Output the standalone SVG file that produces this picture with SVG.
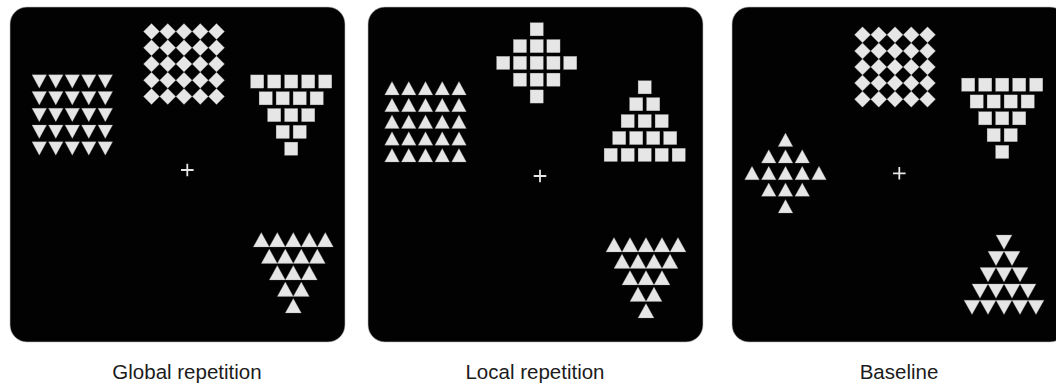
<svg xmlns="http://www.w3.org/2000/svg" xmlns:xlink="http://www.w3.org/1999/xlink" width="1056" height="386" viewBox="0 0 1056 386">
<style>
.panel{fill:#020202;stroke:#bdbdbd;stroke-width:0.6}
.shape{fill:#e6e6e6;stroke:#a0a0a0;stroke-width:0.3}
.cross{stroke:#e6e6e6;stroke-width:1.8;fill:none}
.label{font-family:"Liberation Sans",Arial,sans-serif;font-size:20.5px;fill:#1c1c1c;text-anchor:middle}
</style>
<defs>
<polygon id="td" points="-7.3,-6.7 7.3,-6.7 0,6.7"/>
<polygon id="tu" points="-7.3,6.7 7.3,6.7 0,-6.7"/>
<polygon id="TU" points="-8,7.2 8,7.2 0,-7.2"/>
<polygon id="TD" points="-8,-7.2 8,-7.2 0,7.2"/>
<rect id="sq" x="-6.6" y="-6.6" width="13.2" height="13.2"/>
<polygon id="dia" points="0,-8 8,0 0,8 -8,0"/>
<path id="cross" d="M-6.3,0H6.3M0,-6.3V6.3"/>
<g id="rowTD"><use href="#td" x="0"/><use href="#td" x="16.5"/><use href="#td" x="33"/><use href="#td" x="49.5"/><use href="#td" x="66"/></g>
<g id="rowTU"><use href="#tu" x="0"/><use href="#tu" x="16.75"/><use href="#tu" x="33.5"/><use href="#tu" x="50.25"/><use href="#tu" x="67"/></g>
<g id="rowDia"><use href="#dia" x="0"/><use href="#dia" x="16.25"/><use href="#dia" x="32.5"/><use href="#dia" x="48.75"/><use href="#dia" x="65"/></g>
<g id="sqInv">
<use href="#sq" x="0" y="0"/><use href="#sq" x="17" y="0"/><use href="#sq" x="34" y="0"/><use href="#sq" x="51" y="0"/><use href="#sq" x="68" y="0"/>
<use href="#sq" x="8.5" y="16.8"/><use href="#sq" x="25.5" y="16.8"/><use href="#sq" x="42.5" y="16.8"/><use href="#sq" x="59.5" y="16.8"/>
<use href="#sq" x="17" y="33.6"/><use href="#sq" x="34" y="33.6"/><use href="#sq" x="51" y="33.6"/>
<use href="#sq" x="25.5" y="50.4"/><use href="#sq" x="42.5" y="50.4"/>
<use href="#sq" x="34" y="67.2"/>
</g>
<g id="tuInv">
<use href="#TU" x="0" y="0"/><use href="#TU" x="16" y="0"/><use href="#TU" x="32" y="0"/><use href="#TU" x="48" y="0"/><use href="#TU" x="64" y="0"/>
<use href="#TU" x="8" y="16.5"/><use href="#TU" x="24" y="16.5"/><use href="#TU" x="40" y="16.5"/><use href="#TU" x="56" y="16.5"/>
<use href="#TU" x="16" y="33"/><use href="#TU" x="32" y="33"/><use href="#TU" x="48" y="33"/>
<use href="#TU" x="24" y="49.5"/><use href="#TU" x="40" y="49.5"/>
<use href="#TU" x="32" y="66"/>
</g>
</defs>
<rect width="1056" height="386" fill="#ffffff"/>

<g id="panel-global">
<rect class="panel" x="10" y="7" width="335" height="335" rx="17"/>
<g id="g-downtri-grid" class="shape" transform="translate(39.3,81.5)">
<use href="#rowTD" y="0"/><use href="#rowTD" y="16.75"/><use href="#rowTD" y="33.5"/><use href="#rowTD" y="50.25"/><use href="#rowTD" y="67"/>
</g>
<g id="g-diamond-grid" class="shape" transform="translate(151.5,31.5)">
<use href="#rowDia" y="0"/><use href="#rowDia" y="16.25"/><use href="#rowDia" y="32.5"/><use href="#rowDia" y="48.75"/><use href="#rowDia" y="65"/>
</g>
<g id="g-square-invtri" class="shape" transform="translate(257.2,81.5)"><use href="#sqInv"/></g>
<g id="g-uptri-invtri" class="shape" transform="translate(261.3,239.7)"><use href="#tuInv"/></g>
<g id="g-cross" class="cross" transform="translate(187.3,170)"><use href="#cross"/></g>
<text class="label" x="187" y="379">Global repetition</text>
</g>

<g id="panel-local">
<rect class="panel" x="368" y="7" width="335" height="335" rx="17"/>
<g id="l-uptri-grid" class="shape" transform="translate(392,88.2)">
<use href="#rowTU" y="0"/><use href="#rowTU" y="16.75"/><use href="#rowTU" y="33.5"/><use href="#rowTU" y="50.25"/><use href="#rowTU" y="67"/>
</g>
<g id="l-square-diamond" class="shape" transform="translate(536.7,29.3)">
<use href="#sq" x="0" y="0"/>
<use href="#sq" x="-16.75" y="16.8"/><use href="#sq" x="0" y="16.8"/><use href="#sq" x="16.75" y="16.8"/>
<use href="#sq" x="-33.5" y="33.6"/><use href="#sq" x="-16.75" y="33.6"/><use href="#sq" x="0" y="33.6"/><use href="#sq" x="16.75" y="33.6"/><use href="#sq" x="33.5" y="33.6"/>
<use href="#sq" x="-16.75" y="50.4"/><use href="#sq" x="0" y="50.4"/><use href="#sq" x="16.75" y="50.4"/>
<use href="#sq" x="0" y="67.2"/>
</g>
<g id="l-square-tri" class="shape" transform="translate(610.7,87.3)">
<use href="#sq" x="34" y="0"/>
<use href="#sq" x="25.5" y="16.9"/><use href="#sq" x="42.5" y="16.9"/>
<use href="#sq" x="17" y="33.8"/><use href="#sq" x="34" y="33.8"/><use href="#sq" x="51" y="33.8"/>
<use href="#sq" x="8.5" y="50.7"/><use href="#sq" x="25.5" y="50.7"/><use href="#sq" x="42.5" y="50.7"/><use href="#sq" x="59.5" y="50.7"/>
<use href="#sq" x="0" y="67.6"/><use href="#sq" x="17" y="67.6"/><use href="#sq" x="34" y="67.6"/><use href="#sq" x="51" y="67.6"/><use href="#sq" x="68" y="67.6"/>
</g>
<g id="l-uptri-invtri" class="shape" transform="translate(614,244.7)"><use href="#tuInv"/></g>
<g id="l-cross" class="cross" transform="translate(540,176)"><use href="#cross"/></g>
<text class="label" x="535" y="379">Local repetition</text>
</g>

<g id="panel-baseline">
<rect class="panel" x="732" y="7" width="335" height="335" rx="17"/>
<g id="b-diamond-grid" class="shape" transform="translate(862.5,34.8)">
<use href="#rowDia" y="0"/><use href="#rowDia" y="16.1"/><use href="#rowDia" y="32.2"/><use href="#rowDia" y="48.3"/><use href="#rowDia" y="64.4"/>
</g>
<g id="b-square-invtri" class="shape" transform="translate(968.2,84.7)"><use href="#sqInv"/></g>
<g id="b-uptri-diamond" class="shape" transform="translate(785.5,139.7)">
<use href="#tu" x="0" y="0"/>
<use href="#tu" x="-16.75" y="16.65"/><use href="#tu" x="0" y="16.65"/><use href="#tu" x="16.75" y="16.65"/>
<use href="#tu" x="-33.5" y="33.3"/><use href="#tu" x="-16.75" y="33.3"/><use href="#tu" x="0" y="33.3"/><use href="#tu" x="16.75" y="33.3"/><use href="#tu" x="33.5" y="33.3"/>
<use href="#tu" x="-16.75" y="49.95"/><use href="#tu" x="0" y="49.95"/><use href="#tu" x="16.75" y="49.95"/>
<use href="#tu" x="0" y="66.6"/>
</g>
<g id="b-downtri-tri" class="shape" transform="translate(972,242.2)">
<use href="#TD" x="32" y="0"/>
<use href="#TD" x="24" y="16.3"/><use href="#TD" x="40" y="16.3"/>
<use href="#TD" x="16" y="32.6"/><use href="#TD" x="32" y="32.6"/><use href="#TD" x="48" y="32.6"/>
<use href="#TD" x="8" y="48.9"/><use href="#TD" x="24" y="48.9"/><use href="#TD" x="40" y="48.9"/><use href="#TD" x="56" y="48.9"/>
<use href="#TD" x="0" y="65.2"/><use href="#TD" x="16" y="65.2"/><use href="#TD" x="32" y="65.2"/><use href="#TD" x="48" y="65.2"/><use href="#TD" x="64" y="65.2"/>
</g>
<g id="b-cross" class="cross" transform="translate(899.3,173.3)"><use href="#cross"/></g>
<text class="label" x="899" y="379">Baseline</text>
</g>
</svg>
